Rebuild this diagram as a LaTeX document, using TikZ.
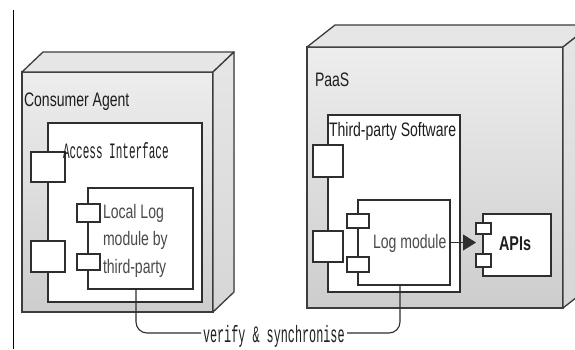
\documentclass[tikz,border=0pt]{standalone}
\usepackage{fontspec}
\setmainfont{Liberation Sans}
\newfontfamily\narrowsans[FakeStretch=0.72]{Liberation Sans}
\newfontfamily\narrowmono[FakeStretch=0.5]{Liberation Mono}
\usetikzlibrary{arrows.meta}
\definecolor{edgecol}{HTML}{3C3C3C}
\definecolor{faceTop}{HTML}{EDEDED}
\definecolor{faceBot}{HTML}{CDCDCD}
\definecolor{sideTop}{HTML}{E6E6E6}
\definecolor{sideBot}{HTML}{D6D6D6}
\definecolor{compedge}{HTML}{2E2E2E}
\definecolor{txtdark}{HTML}{1E1E1E}
\definecolor{txtgray}{HTML}{4A4A4A}
\tikzset{
  nodeface/.style={draw=edgecol, line width=1.3pt, top color=faceTop, bottom color=faceBot,
    inner sep=0pt, outer sep=0pt, anchor=north west},
  sideface/.style={draw=edgecol, line width=1.3pt, top color=sideTop, bottom color=sideBot, line join=round},
  topface/.style={draw=edgecol, line width=1.3pt, fill=sideTop, line join=round},
  comp/.style={draw=compedge, line width=1.1pt, fill=white, inner sep=0pt, outer sep=0pt, anchor=north west},
  lblsans/.style={font=\narrowsans\fontsize{19.5}{27.5}\selectfont, inner sep=0pt, outer sep=0pt},
  lblmono/.style={font=\narrowmono\fontsize{22}{26}\selectfont, inner sep=0pt, outer sep=0pt, text=txtdark},
  conn/.style={draw=compedge, line width=1.1pt},
}
\begin{document}
\begin{tikzpicture}[x=1pt,y=-1pt]
\useasboundingbox (0,0) rectangle (575,349);
\clip (0,0) rectangle (575,349);
\fill[white] (0,0) rectangle (575,349);
\draw[black, line width=1pt] (13,10) -- (13,349);

% Consumer Agent node
\node[nodeface, minimum width=191pt, minimum height=240pt] (ca) at (22,72) {};
\filldraw[topface] (ca.north west) -- ([shift={(21,-20)}]ca.north west) -- ([shift={(21,-20)}]ca.north east) -- (ca.north east) -- cycle;
\filldraw[sideface] (ca.north east) -- ([shift={(21,-20)}]ca.north east) -- ([shift={(21,-20)}]ca.south east) -- (ca.south east) -- cycle;
\node[lblsans, anchor=base west, text=txtdark] (calbl) at (24,106) {Consumer Agent};

% PaaS node
\node[nodeface, minimum width=256pt, minimum height=261pt] (paas) at (307,47) {};
\filldraw[topface] (paas.north west) -- ([shift={(28,-22)}]paas.north west) -- ([shift={(28,-22)}]paas.north east) -- (paas.north east) -- cycle;
\filldraw[sideface] (paas.north east) -- ([shift={(28,-22)}]paas.north east) -- ([shift={(28,-22)}]paas.south east) -- (paas.south east) -- cycle;
\node[lblsans, anchor=base west, text=txtdark] (paaslbl) at (315,86) {PaaS};

% Access Interface component
\node[comp, minimum width=154pt, minimum height=179pt] (ai) at (48,123) {};
\node[comp, minimum width=34pt, minimum height=30pt] (aip1) at (31,152) {};
\node[comp, minimum width=34pt, minimum height=31pt] (aip2) at (31,241) {};
\node[lblmono, anchor=base west, font=\narrowmono\fontsize{22}{26}\selectfont] (ailbl) at (63,158) {Access Interface};

% Local Log module component
\node[comp, minimum width=105pt, minimum height=101pt] (ll) at (88,188) {};
\node[comp, minimum width=23pt, minimum height=18pt] (llp1) at (77,204) {};
\node[comp, minimum width=23pt, minimum height=16pt] (llp2) at (77,254) {};
\node[lblsans, anchor=north west, align=left, text=txtgray] (lllbl) at (103,204) {Local Log\\module by\\third-party};

% Third-party Software component
\node[comp, minimum width=132pt, minimum height=177pt] (tp) at (328,115) {};
\node[comp, minimum width=30pt, minimum height=32pt] (tpp1) at (313,145) {};
\node[comp, minimum width=30pt, minimum height=31pt] (tpp2) at (313,231) {};
\node[lblsans, anchor=base west, text=txtdark] (tplbl) at (329,136) {Third-party Software};

% Log module component
\node[comp, minimum width=92pt, minimum height=85pt] (lm) at (358,200) {};
\node[comp, minimum width=22pt, minimum height=14pt] (lmp1) at (347,214) {};
\node[comp, minimum width=22pt, minimum height=15pt] (lmp2) at (347,257) {};
\node[lblsans, anchor=west, text=txtgray] (lmlbl) at (373,243) {Log module};

% APIs component
\node[comp, minimum width=68pt, minimum height=62pt] (api) at (483,214) {};
\node[comp, minimum width=15pt, minimum height=11pt] (apip1) at (476,223) {};
\node[comp, minimum width=15pt, minimum height=13pt] (apip2) at (476,254) {};
\node[lblsans, anchor=west, text=txtdark, font=\narrowsans\bfseries\fontsize{20}{24}\selectfont] (apilbl) at (499,244) {APIs};

% dependency arrow
\draw[conn, -{Triangle[length=13pt,width=16pt]}] (lm.east) -- (lm.east -| apip1.west);

% verify & synchronise connector
\coordinate (sl) at (201,333);
\coordinate (sr) at (347,333);
\draw[conn, rounded corners=11pt] ([xshift=-4.5pt]ll.south) |- (sl);
\draw[conn, rounded corners=11pt] (sr) -| ([xshift=-4pt]lm.south);
\node[lblmono, anchor=base west, font=\narrowmono\fontsize{23.6}{26}\selectfont] (sync) at (203,342) {verify \& synchronise};
\end{tikzpicture}
\end{document}
